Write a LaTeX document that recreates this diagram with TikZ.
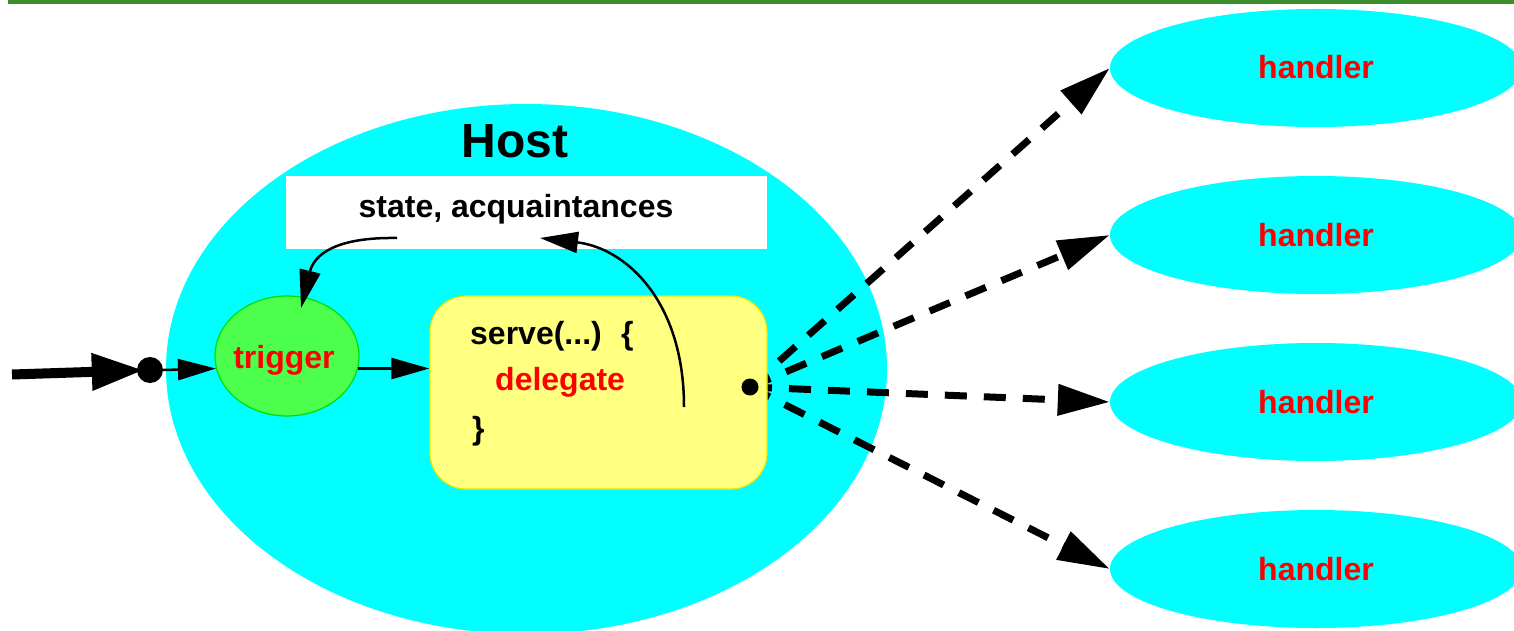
\documentclass[tikz,border=0pt]{standalone}
\usepackage{fontspec}
\setmainfont{Liberation Sans}
\usetikzlibrary{arrows.meta,shapes.geometric}

\definecolor{hostcyan}{RGB}{0,255,255}
\definecolor{trigfill}{RGB}{77,255,77}
\definecolor{trigline}{RGB}{0,222,0}
\definecolor{servefill}{RGB}{255,255,128}
\definecolor{serveline}{RGB}{232,232,0}
\definecolor{bargreen}{RGB}{61,143,45}
\definecolor{txtred}{RGB}{255,0,0}

\begin{document}
\begin{tikzpicture}[x=1pt,y=-1pt,
  lbl/.style={font=\bfseries\fontsize{32}{38}\selectfont, inner sep=0pt, anchor=base},
  codeline/.style={lbl, anchor=base west},
  handlerbox/.style={ellipse, fill=hostcyan, minimum width=412pt, minimum height=118pt, inner sep=0pt},
  thinarr/.style={line width=2.5pt, -{Triangle[length=38pt,width=21pt]}},
  bigarr/.style={line width=10pt, -{Triangle[length=52pt,width=35pt]}},
  dasharr/.style={line width=7pt, dash pattern=on 22pt off 17pt, -{Triangle[length=52pt,width=30pt]}}
]
\useasboundingbox (0,0) rectangle (1514,631);

% title rule
\fill[bargreen] (8,0) rectangle (1514,4.3);

% the host object
\node[ellipse, fill=hostcyan, minimum width=721pt, minimum height=530pt, inner sep=0pt] (host) at (526.5,369) {};
\node[lbl, font=\bfseries\fontsize{48}{54}\selectfont] (hostlbl) at (515,158) {Host};

% state block
\node[fill=white, minimum width=481pt, minimum height=72pt, inner sep=0pt] (state) at (526.5,212.5) {};
\node[lbl] (statelbl) at (516,217) {state, acquaintances};

% handlers
\foreach \i/\y in {1/68,2/235,3/402,4/569}{
  \node[handlerbox] (h\i) at (1316,\y) {};
  \node[lbl, text=txtred] (h\i lbl) at (1316,\y+11) {handler};
}

% delegation fan-out, started under the serve block
\coordinate (src) at (750,387);
\foreach \i in {1,...,4}
  \draw[dasharr] (src) -- (h\i.west);

% serve block
\node[draw=serveline, line width=1.2pt, fill=servefill, rounded corners=36pt,
      minimum width=337pt, minimum height=193pt, inner sep=0pt] (serve) at (598.5,392.5) {};
\node[codeline] (l1) at (470,344) {serve(...)\hspace{0.6em}\{};
\node[codeline, text=txtred] (l2) at (495,390) {delegate};
\node[codeline] (l3) at (472,439) {\}};
\node[circle, fill=black, minimum size=17pt, inner sep=0pt] (blob) at (src) {};

% trigger
\node[ellipse, draw=trigline, line width=1.2pt, fill=trigfill, minimum width=144pt, minimum height=120pt, inner sep=0pt] (trig) at (287,356) {};
\node[lbl, text=txtred] (triglbl) at (284,368) {trigger};

% incoming message
\coordinate (inp) at (12,374.5);
\node[circle, fill=black, minimum size=26pt, inner sep=0pt] (dot) at (150,370) {};
\draw[bigarr, shorten >=-7pt] (inp) -- (dot);
\draw[thinarr] (dot.east) -- (trig.190);
\draw[thinarr] (trig.-10) -- (serve.west |- trig.-10);

% reads and updates of the state
\coordinate (readsrc) at (397,238);
\coordinate (readtip) at (301,308);
\coordinate (updsrc) at (684,407);
\coordinate (updtip) at (540,238);
\draw[thinarr] (readsrc) .. controls (335,237) and (314,255) .. (readtip);
\draw[thinarr] (updsrc) .. controls (684,300) and (625,248) .. (updtip);
\end{tikzpicture}
\end{document}
